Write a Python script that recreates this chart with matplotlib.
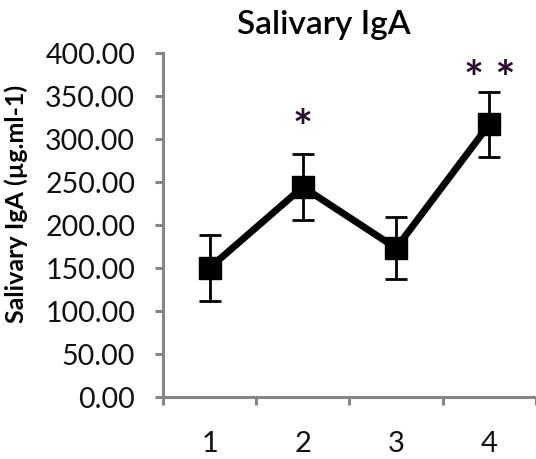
import numpy as np
import matplotlib.pyplot as plt

plt.rcParams['font.family'] = ['Lato', 'DejaVu Sans']

# salivary IgA per sampling point (mean and SD)
groups = ['1', '2', '3', '4']
iga_mean = [150, 244, 173, 317]
iga_sd = [38, 38, 36, 38]
sig_marks = ['', '*', '', '**']
sig_y = [0, 312, 0, 368]

x = np.arange(1, len(groups) + 1)

fig = plt.figure(figsize=(5.36, 4.60), dpi=100)
ax = fig.add_axes([0.304, 0.135, 0.696, 0.748])

ax.errorbar(x, iga_mean, yerr=iga_sd, color='black', lw=5, marker='s',
            markersize=16, ecolor='black', elinewidth=2, capsize=8, capthick=2)

for xi, s, sy in zip(x, sig_marks, sig_y):
    if s:
        ax.text(xi, sy, ' '.join(s), ha='center', va='center',
                fontsize=34, fontweight='bold', color='#2a1030')

ax.set_ylim(0, 400)
ax.set_xlim(0.5, 4.455)
ax.set_yticks(np.arange(0, 401, 50))
ax.set_yticklabels([f'{v:.2f}' for v in np.arange(0, 401, 50)])
ax.set_xticks(np.arange(0.5, 5, 1))
ax.set_xticklabels([])
ax.set_xticks(x, minor=True)
ax.set_xticklabels(groups, minor=True)

for side in ['top', 'right']:
    ax.spines[side].set_visible(False)
for side in ['left', 'bottom']:
    ax.spines[side].set_color('#868686')
    ax.spines[side].set_linewidth(2.2)

ax.tick_params(axis='both', which='major', color='#868686', width=2.2,
               length=6, labelsize=20.5, labelcolor='#111111')
ax.tick_params(axis='y', pad=14)
ax.tick_params(axis='x', which='minor', length=0, pad=24, labelsize=21,
               labelcolor='#111111')

ax.set_ylabel('Salivary IgA (µg.ml-1)', fontsize=18, fontweight='bold')
ax.yaxis.set_label_coords(-0.362, 0.565)
fig.text(0.604, 0.945, 'Salivary IgA', ha='center', va='center',
         fontsize=24, fontweight='semibold')

fig.savefig('out.png', dpi=100)
